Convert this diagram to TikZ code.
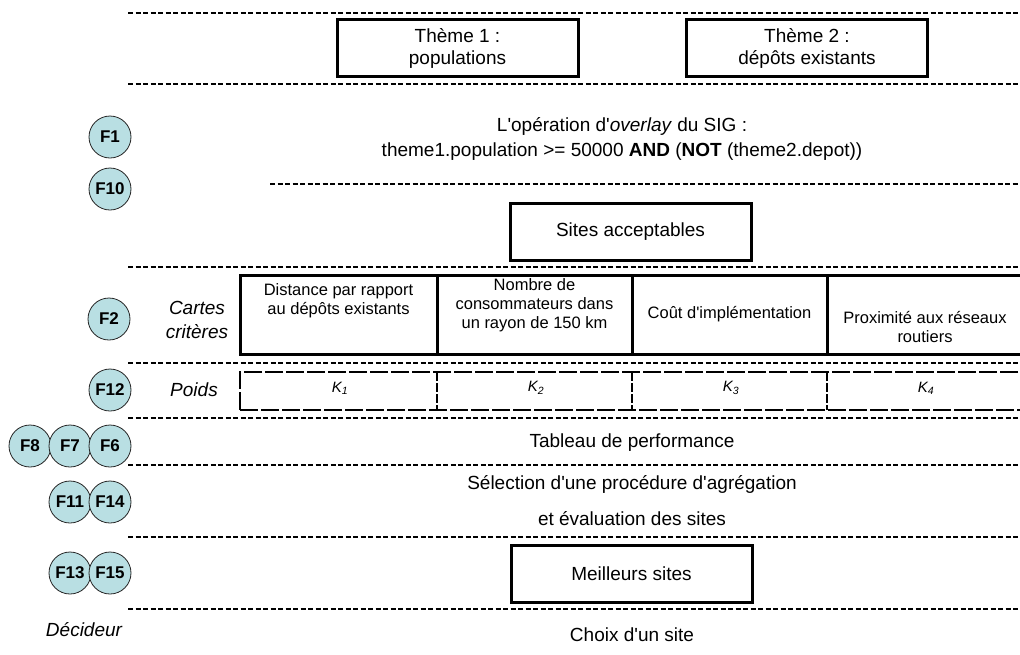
\documentclass[tikz,border=0pt]{standalone}
\usepackage{fontspec}
\setmainfont{Liberation Sans}[Ligatures=TeXOff]
\newcommand\fsz[2]{\fontsize{#1}{#2}\selectfont}
\definecolor{fcfill}{RGB}{185,223,227}
\begin{document}
\begin{tikzpicture}[x=1pt,y=-1pt,
  sep/.style={line width=1.2pt, dash pattern=on 5pt off 2.5pt},
  tbox/.style={draw, line width=3pt, minimum width=241pt, minimum height=57pt, align=center, inner sep=0pt, font=\fsz{19}{22}},
  fc/.style={circle, draw=black!85, line width=0.8pt, fill=fcfill, minimum size=42pt, inner sep=0pt, font=\bfseries\fsz{17}{20}},
  lab/.style={font=\itshape\fsz{19}{24}, align=center, inner sep=0pt},
  txt/.style={font=\fsz{19}{25}, align=center, inner sep=0pt},
  cell/.style={draw, line width=3pt, minimum height=79pt, inner sep=0pt},
  ctxt/.style={font=\fsz{16.5}{19}, align=center, inner sep=0pt},
  wdash/.style={line width=2.6pt, dash pattern=on 18pt off 3pt},
  wdiv/.style={line width=2.2pt, dash pattern=on 9pt off 2pt},
  ktxt/.style={font=\itshape\fsz{15}{18}, inner sep=0pt}
]
\useasboundingbox (0,0) rectangle (1020,654);
\clip (0,0) rectangle (1020,654);

% separators
\foreach \yy in {13,84,267,363,418,465,537,609}
  \draw[sep] (128,\yy) -- (1022,\yy);
\draw[sep] (270,184) -- (1022,184);

% theme boxes
\node[tbox] (t1) at (457.5,48) {Thème 1 :\\populations};
\node[tbox] (t2) at (807,48) {Thème 2 :\\dépôts existants};

% overlay text
\node[txt] (ovl) at (622,139) {L'opération d'\textit{overlay} du SIG :\\theme1.population >= 50000 \textbf{AND} (\textbf{NOT} (theme2.depot))};

% sites acceptables
\node[tbox] (sa) at (630.5,231.5) {Sites acceptables};

% criteria row
\node[cell, minimum width=197pt] (c1) at (338.5,314.5) {};
\node[cell, minimum width=195pt] (c2) at (534.5,314.5) {};
\node[cell, minimum width=195pt] (c3) at (729.5,314.5) {};
\node[cell, minimum width=200pt] (c4) at (927,314.5) {};
\node[ctxt, anchor=north] (c1t) at (338.5,283) {Distance par rapport\\au dépôts existants};
\node[ctxt] (c2t) at (534.5,305) {Nombre de\\consommateurs dans\\un rayon de 150 km};
\node[ctxt] (c3t) at (729.5,314) {Coût d'implémentation};
\node[ctxt] (c4t) at (925,327) {Proximité aux réseaux\\routiers};

% weights row
\node[draw, wdash, minimum width=790pt, minimum height=38pt, inner sep=0pt] (wrow) at (635,391) {};
\coordinate (d1t) at (437,372); \coordinate (d1b) at (437,410);
\coordinate (d2t) at (632,372); \coordinate (d2b) at (632,410);
\coordinate (d3t) at (827,372); \coordinate (d3b) at (827,410);
\draw[wdiv] (d1t) -- (d1b);
\draw[wdiv] (d2t) -- (d2b);
\draw[wdiv] (d3t) -- (d3b);
\node[ktxt] (k1) at (340,388) {K\textsubscript{1}};
\node[ktxt] (k2) at (536,388) {K\textsubscript{2}};
\node[ktxt] (k3) at (731,388) {K\textsubscript{3}};
\node[ktxt] (k4) at (926,388) {K\textsubscript{4}};

% labels
\node[lab] (cc) at (197,320) {Cartes\\critères};
\node[lab] (po) at (194,390) {Poids};
\node[lab] (de) at (84,630) {Décideur};

% lower texts
\node[txt] (tp) at (632,443) {Tableau de performance};
\node[txt, font=\fsz{19}{36}] (sel) at (632,501) {Sélection d'une procédure d'agrégation\\et évaluation des sites};
\node[tbox] (ms) at (631.5,574) {Meilleurs sites};
\node[txt] (ch) at (632,635) {Choix d'un site};

% circles
\node[fc] (f1) at (110,137) {F1};
\node[fc] (f10) at (110,189) {F10};
\node[fc] (f2) at (109,319) {F2};
\node[fc] (f12) at (110,390) {F12};
\node[fc] (f8) at (30,446) {F8};
\node[fc] (f7) at (70,446) {F7};
\node[fc] (f6) at (110,446) {F6};
\node[fc] (f11) at (70,502) {F11};
\node[fc] (f14) at (110,502) {F14};
\node[fc] (f13) at (70,573) {F13};
\node[fc] (f15) at (110,573) {F15};
\end{tikzpicture}
\end{document}
